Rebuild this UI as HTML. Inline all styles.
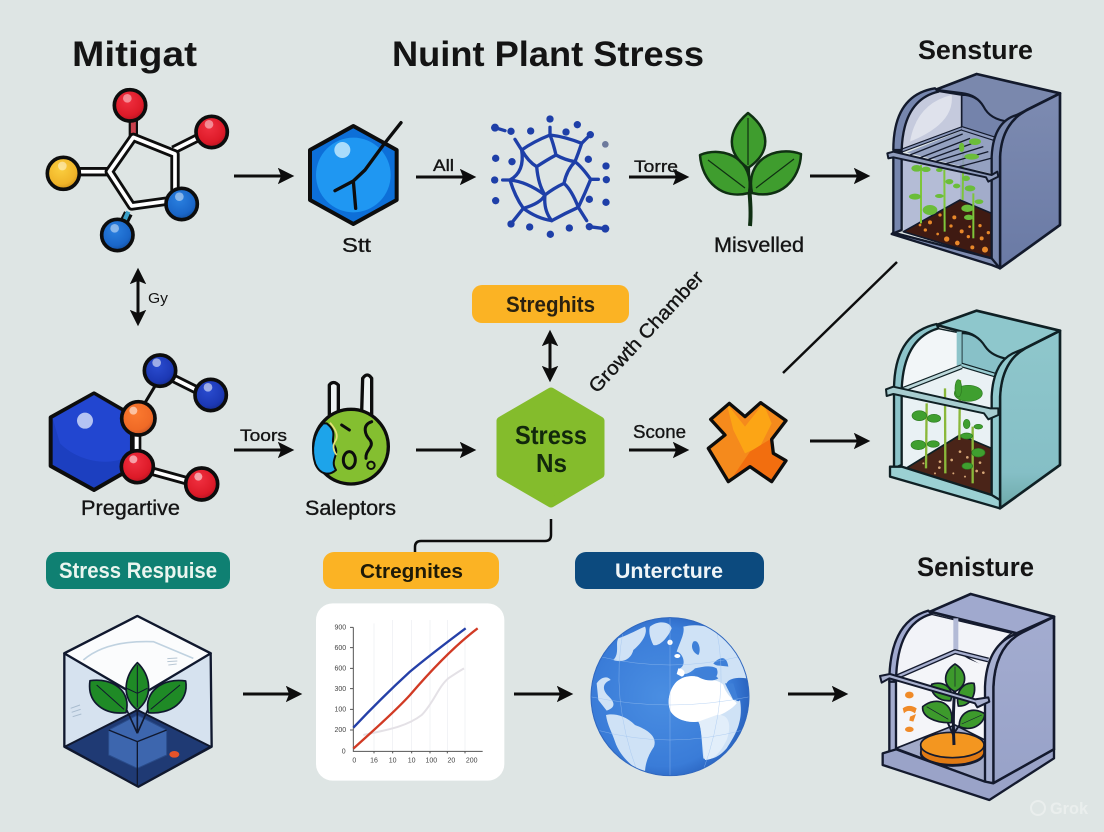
<!DOCTYPE html>
<html><head><meta charset="utf-8"><style>
html,body{margin:0;padding:0;background:#dee5e4;width:1104px;height:832px;overflow:hidden}
svg{display:block}
text{font-family:"Liberation Sans",sans-serif;fill:#141414}
.m{stroke:#141414;stroke-width:.35px}
</style></head><body>
<svg width="1104" height="832" viewBox="0 0 1104 832" xmlns="http://www.w3.org/2000/svg">
<defs>
<radialGradient id="red" cx=".42" cy=".35" r=".7"><stop offset="0" stop-color="#f03040"/><stop offset=".7" stop-color="#dd1a28"/><stop offset="1" stop-color="#a81220"/></radialGradient>
<radialGradient id="blue" cx=".42" cy=".35" r=".7"><stop offset="0" stop-color="#2a80e0"/><stop offset=".7" stop-color="#1a66c8"/><stop offset="1" stop-color="#124a94"/></radialGradient>
<radialGradient id="navy" cx=".42" cy=".35" r=".7"><stop offset="0" stop-color="#2a4cd0"/><stop offset=".7" stop-color="#1c38b4"/><stop offset="1" stop-color="#142a84"/></radialGradient>
<radialGradient id="yel" cx=".42" cy=".35" r=".7"><stop offset="0" stop-color="#fbcf40"/><stop offset=".7" stop-color="#f0b428"/><stop offset="1" stop-color="#c88a18"/></radialGradient>
<radialGradient id="ora" cx=".42" cy=".35" r=".7"><stop offset="0" stop-color="#fb7a30"/><stop offset=".7" stop-color="#f06a26"/><stop offset="1" stop-color="#b8502a"/></radialGradient>
<linearGradient id="ch1" x1="0" y1="0" x2="0" y2="1"><stop offset="0" stop-color="#7d8bb1"/><stop offset="1" stop-color="#6a7aa5"/></linearGradient>
<linearGradient id="ch2" x1="0" y1="0" x2="0" y2="1"><stop offset="0" stop-color="#8fc7cc"/><stop offset=".8" stop-color="#85bfc6"/><stop offset="1" stop-color="#6da9a8"/></linearGradient>
<linearGradient id="ch3" x1="0" y1="0" x2="0" y2="1"><stop offset="0" stop-color="#a3acd0"/><stop offset="1" stop-color="#98a2c8"/></linearGradient>
<radialGradient id="globe" cx=".45" cy=".5" r=".55"><stop offset="0" stop-color="#4a8ee2"/><stop offset=".8" stop-color="#3a7cd8"/><stop offset="1" stop-color="#2a64c0"/></radialGradient>
<marker id="ah" viewBox="0 0 10 10" refX="8" refY="5" markerWidth="5.5" markerHeight="5.5" orient="auto-start-reverse"><path d="M0,0 L10,5 L0,10 L2,5Z" fill="#0d0d0d"/></marker>
<clipPath id="xc"><path d="M752,448 L808,400 L855,440 L902,398 L978,452 L935,508 L940,550 L978,572 L935,635 L870,590 L805,635 L745,535 L795,495Z"/></clipPath>
</defs>
<rect width="1104" height="832" fill="#dee5e4"/>

<!-- Titles -->
<text x="72" y="66" font-size="35" font-weight="700" textLength="125" lengthAdjust="spacingAndGlyphs">Mitigat</text>
<text x="392" y="66" font-size="35" font-weight="700" textLength="312" lengthAdjust="spacingAndGlyphs">Nuint Plant Stress</text>
<text x="918" y="59" font-size="27" font-weight="700" textLength="115" lengthAdjust="spacingAndGlyphs">Sensture</text>
<text x="917" y="576" font-size="27" font-weight="700" textLength="117" lengthAdjust="spacingAndGlyphs">Senisture</text>

<!-- Molecule 1 -->
<g transform="translate(30,80) scale(.33333)">
<g stroke="#0d0d0d" fill="none" stroke-linejoin="round">
<path d="M310,170 L310,120" stroke="#0d0d0d" stroke-width="28"/><path d="M310,160 L310,125" stroke="#c8404c" stroke-width="15"/>
<path d="M295,400 L270,450" stroke-width="28"/><path d="M295,395 L275,440" stroke="#3aa0c8" stroke-width="13"/>
<path d="M430,210 L520,165" stroke-width="28"/><path d="M430,210 L520,165" stroke="#fff" stroke-width="11"/>
<path d="M140,275 L240,275" stroke-width="28"/><path d="M140,275 L240,275" stroke="#fff" stroke-width="11"/>
<path d="M310,172 L435,222 L435,360 L305,378 L238,275Z" stroke-width="28"/>
<path d="M310,172 L435,222 L435,360 L305,378 L238,275Z" stroke="#fff" stroke-width="11"/>
</g>
<g stroke="#0d0d0d" stroke-width="11">
<circle cx="300" cy="76" r="47" fill="url(#red)"/>
<circle cx="545" cy="156" r="47" fill="url(#red)"/>
<circle cx="100" cy="280" r="48" fill="url(#yel)"/>
<circle cx="455" cy="372" r="47" fill="url(#blue)"/>
<circle cx="262" cy="465" r="47" fill="url(#blue)"/>
</g>
<g fill="#fff" opacity=".45"><circle cx="292" cy="55" r="13"/><circle cx="537" cy="133" r="13"/><circle cx="97" cy="258" r="13"/><circle cx="448" cy="350" r="13"/><circle cx="254" cy="445" r="13"/></g>
</g>

<!-- Hexagon Stt -->
<g transform="translate(300,100) scale(.33333)">
<path d="M160,78 L290,150 L290,300 L160,372 L30,300 L30,150Z" fill="#0d6fd8" stroke="#0d0d0d" stroke-width="12" stroke-linejoin="round"/>
<circle cx="160" cy="225" r="112" fill="#1f97f2"/>
<circle cx="127" cy="150" r="24" fill="#a9dcfb"/>
<path d="M303,68 L250,135 L195,210 L160,243 L105,272 M160,243 L167,325" stroke="#0d0d0d" stroke-width="10" fill="none" stroke-linecap="round" stroke-linejoin="round"/>
</g>
<text x="342" y="252" font-size="20" textLength="29" lengthAdjust="spacingAndGlyphs" class="m">Stt</text>

<!-- Network -->
<g transform="translate(470,100) scale(.33333)">
<g fill="none" stroke="#1e3fa8" stroke-width="10" stroke-linejoin="round" stroke-linecap="round">
<path d="M240,105 Q190,125 155,150 Q165,215 120,240 Q135,290 160,325 Q200,355 245,362 Q285,340 325,322 Q345,280 362,238 Q335,200 315,185 Q325,160 335,130 Q285,110 240,105Z"/>
<path d="M155,150 Q175,185 200,200 Q230,180 258,165 Q250,130 240,105 M258,165 Q285,180 315,185 Q290,210 282,250 Q250,265 225,285 Q205,255 200,200 M120,240 Q170,245 225,285 Q212,310 160,325 M225,285 Q220,330 245,362 M282,250 Q305,270 325,322 M240,105 L240,82 M335,130 L360,105 M155,150 L135,118 M120,240 L98,240 M362,238 L385,238 M160,325 L128,365 M325,322 L350,362 M75,83 L105,92 M358,380 L405,386"/>
</g>
<g fill="#1e3fa8">
<circle cx="240" cy="57" r="11"/><circle cx="322" cy="74" r="11"/><circle cx="288" cy="96" r="11"/><circle cx="361" cy="104" r="11"/><circle cx="182" cy="93" r="11"/><circle cx="123" cy="94" r="11"/><circle cx="75" cy="83" r="12"/>
<circle cx="77" cy="175" r="11"/><circle cx="126" cy="185" r="11"/><circle cx="74" cy="240" r="11"/><circle cx="77" cy="302" r="11"/>
<circle cx="355" cy="178" r="11"/><circle cx="408" cy="198" r="11"/><circle cx="409" cy="239" r="11"/><circle cx="358" cy="298" r="11"/><circle cx="408" cy="307" r="11"/>
<circle cx="123" cy="372" r="11"/><circle cx="179" cy="381" r="11"/><circle cx="241" cy="403" r="11"/><circle cx="298" cy="384" r="11"/><circle cx="358" cy="380" r="11"/><circle cx="406" cy="386" r="12"/>
</g>
<circle cx="406" cy="133" r="10" fill="#6d7a9c"/>
</g>

<!-- Plant top -->
<g stroke="#0f2f12" stroke-width="2.5" stroke-linejoin="round" fill="#3f9d2e">
<path d="M750,226 C752,205 748,185 748,165" fill="none" stroke-width="4"/>
<path d="M749,193 C722,200 702,182 700,155 C725,145 755,160 749,193Z"/>
<path d="M752,193 C780,200 800,180 801,154 C775,145 745,160 752,193Z"/>
<path d="M748,168 C725,152 728,130 748,113 C770,130 772,152 748,168Z"/>
<path d="M748,118 L748,165 M708,160 L745,188 M794,159 L756,188" fill="none" stroke-width="1.2"/>
</g>
<text x="714" y="252" font-size="21" textLength="90" lengthAdjust="spacingAndGlyphs" class="m">Misvelled</text>

<!-- Chamber 1 -->
<g transform="translate(860,60) scale(.33333)" stroke="#131a2c" stroke-linejoin="round">
<path d="M420,625 L600,495 L600,100 L500,150 Q425,190 420,290Z" fill="url(#ch1)" stroke-width="8"/>
<path d="M225,90 L350,42 L600,100 L500,150 L445,185 Q390,180 370,140 Q350,105 305,100Z" fill="#7a88ad" stroke-width="8"/>
<path d="M305,105 Q350,105 370,140 Q390,180 445,185 L415,240 L305,205Z" fill="#7483ab" stroke-width="5"/>
<path d="M125,270 Q125,120 225,92 L305,105 L305,205Z" fill="#c5cadd" stroke-width="5"/>
<path d="M150,245 Q170,130 275,105 Q285,190 150,245Z" fill="#dfe2ec" stroke="none"/>
<path d="M125,290 L300,320 L300,420 L130,515Z" fill="#b4bcd6" stroke="none"/>
<path d="M300,310 L395,350 L395,460 L300,420Z" fill="#a2acca" stroke="none"/>
<path d="M130,515 L300,420 L395,460 L395,595Z" fill="#3f1a12" stroke-width="5"/>
<g fill="#e8882a" stroke="none"><circle cx="210" cy="487" r="6"/><circle cx="260" cy="537" r="8"/><circle cx="375" cy="569" r="9"/><circle cx="292" cy="549" r="7"/><circle cx="305" cy="514" r="6"/><circle cx="360" cy="497" r="5"/><circle cx="283" cy="472" r="6"/><circle cx="337" cy="562" r="6"/><circle cx="196" cy="510" r="5"/><circle cx="329" cy="500" r="4"/><circle cx="365" cy="535" r="6"/><circle cx="273" cy="498" r="5"/><circle cx="233" cy="522" r="4"/><circle cx="240" cy="465" r="5"/><circle cx="325" cy="530" r="5"/><circle cx="385" cy="518" r="5"/><circle cx="180" cy="495" r="4"/></g>
<g stroke="#7ec63a" stroke-width="6" fill="none"><path d="M183,315 L183,490"/><path d="M253,330 L254,515"/><path d="M340,400 L340,535"/><path d="M310,250 L308,420"/></g>
<g fill="#6bbd3a" stroke="none"><ellipse cx="170" cy="325" rx="16" ry="10"/><ellipse cx="198" cy="328" rx="14" ry="8"/><ellipse cx="165" cy="410" rx="18" ry="9"/><ellipse cx="210" cy="450" rx="22" ry="15"/><ellipse cx="238" cy="408" rx="13" ry="6"/><ellipse cx="268" cy="365" rx="12" ry="8"/><ellipse cx="238" cy="330" rx="10" ry="6"/><ellipse cx="318" cy="355" rx="12" ry="8"/><ellipse cx="290" cy="378" rx="11" ry="7"/><ellipse cx="330" cy="385" rx="16" ry="9"/><ellipse cx="322" cy="445" rx="18" ry="11"/><ellipse cx="326" cy="472" rx="14" ry="8"/><ellipse cx="357" cy="425" rx="13" ry="7"/></g>
<path d="M140,278 L305,212 L415,240 L390,340 L300,318Z" fill="#8c99bd" stroke="none" opacity=".9"/>
<g stroke-width="4" fill="none"><path d="M150,285 L308,222 M175,295 L330,235 M200,300 L352,245 M225,305 L370,260 M255,312 L385,275 M290,322 L392,295"/></g>
<g fill="#6bbd3a" stroke="none"><ellipse cx="345" cy="245" rx="18" ry="10"/><ellipse cx="335" cy="290" rx="22" ry="9"/><ellipse cx="305" cy="262" rx="8" ry="14"/></g>
<path d="M305,205 L415,240" stroke-width="14" fill="none"/><path d="M305,205 L415,240" stroke="#8d9abd" stroke-width="7" fill="none"/>
<path d="M125,272 L305,205" stroke-width="12" fill="none"/><path d="M125,272 L305,205" stroke="#8d9abd" stroke-width="5" fill="none"/>
<path d="M100,270 Q100,105 225,85 L235,95 Q130,120 125,270Z" fill="#7686ae" stroke-width="7"/>
<path d="M500,150 Q425,190 420,290 L420,625 L395,600 L395,290 Q400,185 470,165Z" fill="#7b8ab0" stroke-width="7"/>
<path d="M100,275 L100,520 L125,510 L125,275Z" fill="#7686ae" stroke-width="7"/>
<path d="M95,522 L100,518 L395,595 L420,625 L395,615Z" fill="#7f8db2" stroke-width="7"/>
<path d="M82,280 L100,275 L395,345 L412,335 L415,350 L385,365 L378,352 L100,292 L85,295Z" fill="#8f9cbd" stroke-width="6"/>
</g>

<!-- Double arrow Gy -->
<line x1="138" y1="271" x2="138" y2="323" stroke="#0d0d0d" stroke-width="3" marker-start="url(#ah)" marker-end="url(#ah)"/>
<text x="148" y="303" font-size="15" textLength="20" lengthAdjust="spacingAndGlyphs">Gy</text>

<!-- Molecule 2 -->
<g transform="translate(30,340) scale(.33333)">
<path d="M192,160 L305,225 L305,385 L192,450 L62,378 L62,232Z" fill="#1c3fc0" stroke="#0d0d0d" stroke-width="12" stroke-linejoin="round"/>
<path d="M192,165 L300,228 L300,345 C250,380 150,370 90,310 L68,235Z" fill="#2347d2" opacity=".9"/>
<circle cx="165" cy="242" r="24" fill="#b4c3f3"/>
<g fill="none"><path d="M320,230 L380,130" stroke="#0d0d0d" stroke-width="9"/>
<path d="M420,110 L520,160" stroke="#0d0d0d" stroke-width="28"/><path d="M420,110 L520,160" stroke="#fff" stroke-width="11"/>
<path d="M320,280 L320,340" stroke="#0d0d0d" stroke-width="28"/><path d="M320,280 L320,340" stroke="#fff" stroke-width="12"/>
<path d="M360,392 L480,425" stroke="#0d0d0d" stroke-width="28"/><path d="M360,392 L480,425" stroke="#fff" stroke-width="11"/></g>
<g stroke="#0d0d0d" stroke-width="11">
<circle cx="390" cy="92" r="47" fill="url(#navy)"/>
<circle cx="542" cy="165" r="47" fill="url(#navy)"/>
<circle cx="325" cy="235" r="50" fill="url(#ora)"/>
<circle cx="322" cy="380" r="48" fill="url(#red)"/>
<circle cx="515" cy="432" r="48" fill="url(#red)"/>
</g>
<g fill="#fff" opacity=".55"><circle cx="380" cy="68" r="13"/><circle cx="534" cy="142" r="13"/><circle cx="310" cy="212" r="12"/><circle cx="310" cy="358" r="12"/><circle cx="505" cy="410" r="12"/></g>
</g>
<text x="81" y="515" font-size="21" textLength="99" lengthAdjust="spacingAndGlyphs" class="m">Pregartive</text>
<text x="240" y="441" font-size="17" textLength="47" lengthAdjust="spacingAndGlyphs" class="m">Toors</text>

<!-- Saleptors icon -->
<g transform="translate(290,360) scale(.33333)" stroke="#0d0d0d" stroke-linejoin="round">
<path d="M118,180 L118,75 Q130,60 145,75 L145,160 L215,155 L218,55 Q232,35 245,55 L245,170 L150,210Z" fill="#eef3f2" stroke-width="10"/>
<circle cx="183" cy="260" r="112" fill="#84bf30" stroke-width="10"/>
<path d="M100,190 C70,220 62,270 76,312 C90,345 118,348 138,330 C118,300 150,285 134,258 C118,235 148,220 110,190Z" fill="#1da4ea" stroke-width="6"/>
<path d="M120,188 Q148,220 138,240 Q122,262 140,285" stroke="#e8e07a" stroke-width="5" fill="none"/>
<g fill="none" stroke-width="9" stroke-linecap="round"><ellipse cx="178" cy="300" rx="18" ry="25"/><path d="M155,195 L178,210 M245,185 C215,195 225,225 240,240 C255,260 225,270 228,295"/><circle cx="243" cy="316" r="11" stroke-width="6"/></g>
</g>
<text x="305" y="515" font-size="21" textLength="91" lengthAdjust="spacingAndGlyphs" class="m">Saleptors</text>

<!-- Streghits -->
<rect x="472" y="285" width="157" height="38" rx="10" fill="#fbb324"/>
<text x="506" y="312" font-size="22" font-weight="700" textLength="89" lengthAdjust="spacingAndGlyphs" style="fill:#2a2210">Streghits</text>
<line x1="550" y1="333" x2="550" y2="379" stroke="#0d0d0d" stroke-width="3" marker-start="url(#ah)" marker-end="url(#ah)"/>

<!-- Stress Ns -->
<path d="M551,392 L600,421 L600,474 L551,503 L501,474 L501,421Z" fill="#84bc2c" stroke="#84bc2c" stroke-width="9" stroke-linejoin="round"/>
<text x="515" y="444" font-size="26" font-weight="700" textLength="72" lengthAdjust="spacingAndGlyphs" style="fill:#12280c">Stress</text>
<text x="536" y="472" font-size="26" font-weight="700" textLength="31" lengthAdjust="spacingAndGlyphs" style="fill:#12280c">Ns</text>

<text transform="translate(597,394) rotate(-47)" font-size="19.5" textLength="158" lengthAdjust="spacingAndGlyphs" x="0" y="0" class="m">Growth Chamber</text>

<text x="633" y="438" font-size="18" textLength="53" lengthAdjust="spacingAndGlyphs" class="m">Scone</text>

<!-- X shape -->
<g transform="translate(460,270) scale(.33333)">
<path d="M752,448 L808,400 L855,440 L902,398 L978,452 L935,508 L940,550 L978,572 L935,635 L870,590 L805,635 L745,535 L795,495Z" fill="#f58a1c"/>
<g clip-path="url(#xc)">
<path d="M800,400 L855,470 L910,400 L935,460 L900,530 L855,550 L820,480Z" fill="#fca515"/>
<path d="M805,640 L870,545 L935,505 L985,570 L940,640 L870,590Z" fill="#f26e0f"/>
</g>
<path d="M752,448 L808,400 L855,440 L902,398 L978,452 L935,508 L940,550 L978,572 L935,635 L870,590 L805,635 L745,535 L795,495Z" fill="none" stroke="#0d0d0d" stroke-width="10" stroke-linejoin="round"/>
</g>
<line x1="783" y1="373" x2="897" y2="262" stroke="#0d0d0d" stroke-width="2.5"/>

<!-- Chamber 2 -->
<g transform="translate(860,300) scale(.33333)" stroke="#0f2024" stroke-linejoin="round">
<path d="M420,625 L600,495 L600,92 L495,145 Q425,185 420,290Z" fill="url(#ch2)" stroke-width="8"/>
<path d="M230,75 L350,32 L600,92 L495,145 L445,178 Q395,170 375,140 Q350,100 305,95Z" fill="#8ec7cc" stroke-width="8"/>
<path d="M305,100 Q350,100 375,140 Q395,170 445,178 L415,230 L305,195Z" fill="#88c1c8" stroke-width="5"/>
<path d="M125,270 Q125,115 230,85 L305,100 L305,195Z" fill="#f2f6f8" stroke-width="4"/>
<path d="M290,95 L305,95 L305,195 L290,200Z" fill="#8dc4ca" stroke="none"/>
<path d="M125,270 L305,200 L415,235 L395,460 L300,405 L130,510Z" fill="#e9f1f4" stroke="none"/>
<path d="M130,510 L300,405 L395,445 L395,585Z" fill="#4a2418" stroke-width="5"/>
<g fill="#d8a878" stroke="none"><circle cx="240" cy="485" r="4"/><circle cx="300" cy="455" r="4"/><circle cx="322" cy="472" r="4"/><circle cx="360" cy="488" r="4"/><circle cx="370" cy="518" r="4"/><circle cx="350" cy="513" r="4"/><circle cx="238" cy="503" r="4"/><circle cx="275" cy="480" r="4"/><circle cx="190" cy="490" r="3"/><circle cx="315" cy="530" r="3"/><circle cx="280" cy="520" r="3"/><circle cx="225" cy="520" r="3"/></g>
<g stroke="#8ab83a" stroke-width="7" fill="none"><path d="M200,310 L198,505"/><path d="M255,265 L256,520"/><path d="M300,240 L298,420"/><path d="M338,380 L338,550"/></g>
<g fill="#3f9f2f" stroke="#2e7a22" stroke-width="2"><ellipse cx="178" cy="347" rx="22" ry="15"/><ellipse cx="222" cy="355" rx="20" ry="12"/><ellipse cx="175" cy="435" rx="22" ry="14"/><ellipse cx="220" cy="432" rx="18" ry="10"/><ellipse cx="325" cy="280" rx="42" ry="24"/><ellipse cx="295" cy="265" rx="10" ry="26"/><ellipse cx="320" cy="408" rx="18" ry="9"/><ellipse cx="355" cy="380" rx="13" ry="7"/><ellipse cx="355" cy="458" rx="20" ry="13"/><ellipse cx="322" cy="498" rx="16" ry="10"/><ellipse cx="320" cy="372" rx="10" ry="14"/></g>
<path d="M305,195 L415,228" stroke-width="14" fill="none"/><path d="M305,195 L415,228" stroke="#9acdd2" stroke-width="7" fill="none"/>
<path d="M125,270 L305,200" stroke-width="15" fill="none"/><path d="M125,270 L305,200" stroke="#bcd8db" stroke-width="8" fill="none"/>
<path d="M102,270 Q102,100 230,72 L235,85 Q130,115 125,270Z" fill="#8cc4ca" stroke-width="7"/>
<path d="M495,145 Q425,185 420,290 L420,625 L395,600 L395,290 Q400,180 470,155Z" fill="#92cace" stroke-width="7"/>
<path d="M102,275 L102,505 L125,495 L125,275Z" fill="#8cc4ca" stroke-width="7"/>
<path d="M90,500 L125,500 L395,585 L420,600 L420,625 L90,530Z" fill="#9bd0d3" stroke-width="7"/>
<path d="M78,268 L100,260 L390,325 L415,325 L415,345 L385,358 L372,340 L100,282 L80,288Z" fill="#a7cdd0" stroke-width="6"/>
</g>

<!-- Bottom pills -->
<rect x="46" y="552" width="184" height="37" rx="11" fill="#0f8072"/>
<text x="59" y="578" font-size="22" textLength="158" lengthAdjust="spacingAndGlyphs" font-weight="700" style="fill:#eaf5ef">Stress Respuise</text>
<rect x="323" y="552" width="176" height="37" rx="11" fill="#fbb324"/>
<text x="360" y="578" font-size="20" textLength="103" lengthAdjust="spacingAndGlyphs" font-weight="700" style="fill:#1e1a08">Ctregnites</text>
<rect x="575" y="552" width="189" height="37" rx="11" fill="#0c4a7e"/>
<text x="615" y="578" font-size="21" textLength="108" lengthAdjust="spacingAndGlyphs" font-weight="700" style="fill:#f0f5f8">Untercture</text>

<!-- Connector -->
<path d="M551,519 L551,535 Q551,541 545,541 L421,541 Q415,541 415,547 L415,552" fill="none" stroke="#0d0d0d" stroke-width="2.5"/>

<!-- Cube -->
<g transform="translate(30,600) scale(.33333)" stroke="#10182e" stroke-linejoin="round">
<path d="M103,160 L322,48 L542,160 L545,440 L325,560 L103,440Z" fill="#d6e2ef" stroke-width="7"/>
<path d="M103,160 L322,48 L542,160 L325,290Z" fill="#fbfcfd" stroke-width="7"/>
<path d="M160,180 Q230,120 370,125 L490,175" stroke="#c0d2e0" stroke-width="5" fill="none"/>
<path d="M412,176 L442,174 M412,185 L442,183 M415,195 L440,192" stroke="#b8c7d4" stroke-width="3"/>
<path d="M122,325 L150,315 M125,337 L152,328 M128,350 L154,342" stroke="#a8bbce" stroke-width="3"/>
<path d="M105,440 L322,330 L542,440 L325,560Z" fill="#1f3a74" stroke-width="6"/>
<path d="M236,390 L322,345 L410,390 L410,465 L322,505 L236,465Z" fill="#3d66ae" stroke="#2a4c8a" stroke-width="3"/>
<path d="M236,390 L322,425 L410,390 M322,425 L322,560" fill="none" stroke-width="4"/>
<ellipse cx="433" cy="463" rx="15" ry="10" fill="#e4532a" stroke="none"/>
<path d="M322,400 L288,325 M322,400 L322,320 M322,400 L355,325" stroke-width="5" fill="none"/>
<g fill="#1f8a26" stroke-width="5">
<path d="M288,338 C225,345 170,310 180,242 C250,232 305,275 288,338Z"/>
<path d="M355,338 C420,345 478,305 467,243 C400,232 340,275 355,338Z"/>
<path d="M322,330 C270,290 285,225 322,188 C362,225 372,290 322,330Z"/>
</g>
<path d="M322,195 L322,322 M200,255 L282,328 M450,255 L362,328 M290,265 L322,280 L352,265" fill="none" stroke-width="3"/>
</g>

<!-- Chart -->
<g transform="translate(300,590) scale(.33333)">
<rect x="48" y="40" width="565" height="532" rx="50" fill="#fff"/>
<g stroke="#ecedf1" stroke-width="2"><path d="M222,100 V480 M278,90 V480 M335,90 V480 M390,90 V480 M442,90 V480 M495,90 V480"/></g>
<path d="M160,112 V484 H548" fill="none" stroke="#555" stroke-width="3"/>
<path d="M150,112 H160 M150,173 H160 M150,235 H160 M150,296 H160 M150,358 H160 M150,420 H160" stroke="#555" stroke-width="3"/>
<path d="M222,484 V490 M278,484 V490 M335,484 V490 M390,484 V490 M442,484 V490 M495,484 V490" stroke="#555" stroke-width="3"/>
<path d="M190,435 C260,420 320,410 365,375 C400,340 415,290 445,265 C470,248 480,242 492,235" fill="none" stroke="#e4e1e6" stroke-width="6"/>
<path d="M160,413 C210,360 270,300 330,245 C390,195 450,150 497,115" fill="none" stroke="#2540a8" stroke-width="7"/>
<path d="M160,476 C210,430 280,370 330,315 C390,245 460,170 533,115" fill="none" stroke="#d13a24" stroke-width="7"/>
<g style="font-size:21px" text-anchor="middle">
<text x="121" y="119" style="fill:#444">900</text><text x="121" y="180" style="fill:#444">600</text><text x="121" y="242" style="fill:#444">600</text><text x="121" y="303" style="fill:#444">300</text><text x="121" y="365" style="fill:#444">100</text><text x="121" y="426" style="fill:#444">200</text><text x="131" y="490" style="fill:#444">0</text>
<text x="163" y="517" style="fill:#444">0</text><text x="222" y="517" style="fill:#444">16</text><text x="278" y="517" style="fill:#444">10</text><text x="335" y="517" style="fill:#444">10</text><text x="394" y="517" style="fill:#444">100</text><text x="454" y="517" style="fill:#444">20</text><text x="515" y="517" style="fill:#444">200</text>
</g>
</g>

<!-- Globe -->
<g transform="translate(570,600) scale(.33333)">
<clipPath id="gc"><circle cx="300" cy="290" r="238"/></clipPath>
<circle cx="300" cy="290" r="238" fill="url(#globe)"/>
<g clip-path="url(#gc)">
<g fill="#cfe2f6">
<path d="M108,345 C130,340 165,345 195,375 C235,390 262,410 252,440 C235,465 225,490 225,520 C190,505 150,470 135,425 C125,395 112,375 108,345Z"/>
<path d="M80,250 C95,228 115,228 122,240 C100,248 95,265 112,285 C128,300 145,320 110,332 L85,300Z"/>
<path d="M145,115 C175,105 200,90 225,80 C235,100 215,130 190,150 C180,190 140,185 130,180 C150,160 135,130 145,115Z"/>
<path d="M240,80 C265,60 300,65 305,85 C290,120 265,140 250,135 C240,115 235,95 240,80Z"/>
<path d="M340,80 C380,70 430,75 480,120 C500,150 520,190 530,235 C490,230 465,240 470,260 C490,300 505,310 510,300 C520,360 500,400 470,445 C440,480 410,480 400,475 C395,430 395,380 385,365 C350,370 310,355 300,330 C290,300 300,265 320,245 C345,225 370,225 400,235 C430,245 450,230 440,205 C420,195 400,200 375,205 C350,230 325,225 330,205 C350,195 340,160 320,155 C330,125 345,100 340,80Z"/>
</g>
<path d="M300,330 C290,300 300,265 320,245 C345,225 370,225 400,235 C420,240 450,240 460,255 C470,290 500,305 500,310 C470,345 410,360 385,365 C350,370 310,355 300,330Z" fill="#fff"/>
<path d="M405,480 C395,430 395,380 385,365 L440,345 C480,340 485,380 470,420 C450,460 430,480 405,480Z" fill="#e2eefa"/>
<g fill="#3f80d8"><path d="M370,125 C385,115 395,150 385,165 C370,160 360,140 370,125Z"/><path d="M430,190 C450,170 470,165 475,200 C450,195 440,200 430,190Z"/><path d="M370,220 C390,200 420,210 445,235 C420,250 385,235 370,220Z"/><path d="M465,250 L490,250 L505,300 L490,300Z"/></g>
<g fill="#fff"><circle cx="300" cy="127" r="8"/><ellipse cx="322" cy="168" rx="9" ry="6"/><path d="M325,205 C345,205 350,225 335,230 L320,222Z"/></g>
<g fill="none" stroke="#9cc2ef" stroke-width="1.5" opacity=".7"><path d="M60,290 Q300,340 540,290 M90,170 Q300,220 510,170 M80,390 Q300,450 520,390 M300,50 L300,530 M160,90 Q120,290 200,510 M440,90 Q480,290 400,510"/></g>
</g>
<circle cx="300" cy="290" r="237" fill="none" stroke="#3168bf" stroke-width="3"/>
</g>

<!-- Chamber 3 -->
<g transform="translate(860,590) scale(.33333)" stroke="#141a2e" stroke-linejoin="round">
<path d="M400,580 L582,478 L582,80 L485,128 Q405,170 400,290Z" fill="url(#ch3)" stroke-width="8"/>
<path d="M210,65 L332,12 L582,80 L470,130 Z" fill="#a0a9ce" stroke-width="8"/>
<path d="M108,260 Q108,100 210,72 L455,130 Q400,165 385,240 L285,180Z" fill="#f2f3f8" stroke-width="4"/>
<path d="M280,85 L295,85 L295,180 L280,180Z" fill="#b3bad6" stroke="none"/>
<path d="M108,270 L285,190 L380,230 L375,490 L280,430 L108,480Z" fill="#f4f5f9" stroke="none"/>
<path d="M108,475 L285,405 L375,450 L375,575Z" fill="#a2aac8" stroke-width="5"/>
<g fill="#f08a28" stroke="none"><ellipse cx="148" cy="315" rx="13" ry="10"/><path d="M128,355 Q148,340 170,355 L165,370 Q145,355 132,370Z"/><path d="M150,380 L168,372 L160,395 L148,392Z"/><ellipse cx="148" cy="418" rx="13" ry="8"/></g>
<path d="M105,263 L285,185 L385,210" stroke-width="15" fill="none"/><path d="M105,263 L285,185 L385,210" stroke="#a8b0d0" stroke-width="7" fill="none"/>
<ellipse cx="277" cy="490" rx="95" ry="38" fill="#ea8218" stroke-width="5"/>
<path d="M183,470 L183,490 A95,38 0 0 0 372,490 L372,470Z" fill="#e07a14" stroke-width="5"/>
<ellipse cx="277" cy="465" rx="95" ry="38" fill="#f39620" stroke-width="5"/>
<path d="M282,465 C280,420 278,370 285,290" stroke-width="9" fill="none"/>
<path d="M282,440 L262,395 M285,425 L305,395" stroke-width="6" fill="none"/>
<g fill="#3d9a2c" stroke-width="5">
<path d="M285,305 C245,285 250,245 285,222 C322,245 325,285 285,305Z"/>
<path d="M272,332 C235,335 210,310 215,283 C250,270 285,295 272,332Z"/>
<path d="M295,348 C285,305 310,275 342,280 C350,315 330,350 295,348Z"/>
<path d="M274,398 C225,400 185,380 188,350 C230,315 285,340 274,398Z"/>
<path d="M298,410 C295,370 335,345 375,372 C370,405 335,425 298,410Z"/>
</g>
<path d="M285,230 L285,290 M200,350 L265,388 M365,375 L305,402" stroke-width="2" fill="none"/>
<path d="M88,275 Q88,95 205,62 L215,72 Q110,100 108,275Z" fill="#a0a9ce" stroke-width="7"/>
<path d="M485,128 Q405,170 400,290 L400,580 L375,575 L375,290 Q380,170 460,135Z" fill="#a5aed0" stroke-width="7"/>
<path d="M88,275 L88,485 L108,480 L108,275Z" fill="#a3abcd" stroke-width="7"/>
<path d="M68,490 L108,478 L375,575 L400,580 L582,478 L582,505 L388,630 L68,525Z" fill="#9aa3c8" stroke-width="7"/>
<path d="M60,258 L90,252 L345,328 L385,322 L388,335 L352,352 L345,340 L88,265 L65,278Z" fill="#a9b1cf" stroke-width="6"/>
</g>

<!-- Arrows -->
<g stroke="#0d0d0d" stroke-width="3" fill="none">
<line x1="234" y1="176" x2="291" y2="176" marker-end="url(#ah)"/>
<line x1="416" y1="177" x2="473" y2="177" marker-end="url(#ah)"/>
<line x1="629" y1="177" x2="686" y2="177" marker-end="url(#ah)"/>
<line x1="810" y1="176" x2="867" y2="176" marker-end="url(#ah)"/>
<line x1="234" y1="450" x2="291" y2="450" marker-end="url(#ah)"/>
<line x1="416" y1="450" x2="473" y2="450" marker-end="url(#ah)"/>
<line x1="629" y1="450" x2="686" y2="450" marker-end="url(#ah)"/>
<line x1="810" y1="441" x2="867" y2="441" marker-end="url(#ah)"/>
<line x1="243" y1="694" x2="299" y2="694" marker-end="url(#ah)"/>
<line x1="514" y1="694" x2="570" y2="694" marker-end="url(#ah)"/>
<line x1="788" y1="694" x2="845" y2="694" marker-end="url(#ah)"/>
</g>
<text x="433" y="171" font-size="17" textLength="21" lengthAdjust="spacingAndGlyphs" class="m">All</text>
<text x="634" y="172" font-size="17" textLength="44" lengthAdjust="spacingAndGlyphs" class="m">Torre</text>

<!-- Watermark -->
<g opacity=".75">
<text x="1050" y="814" font-size="17" font-weight="700" style="fill:#eef2f1" textLength="38" lengthAdjust="spacingAndGlyphs">Grok</text>
<circle cx="1038" cy="808" r="7" fill="none" stroke="#eef2f1" stroke-width="2"/>
</g>
</svg>
</body></html>
